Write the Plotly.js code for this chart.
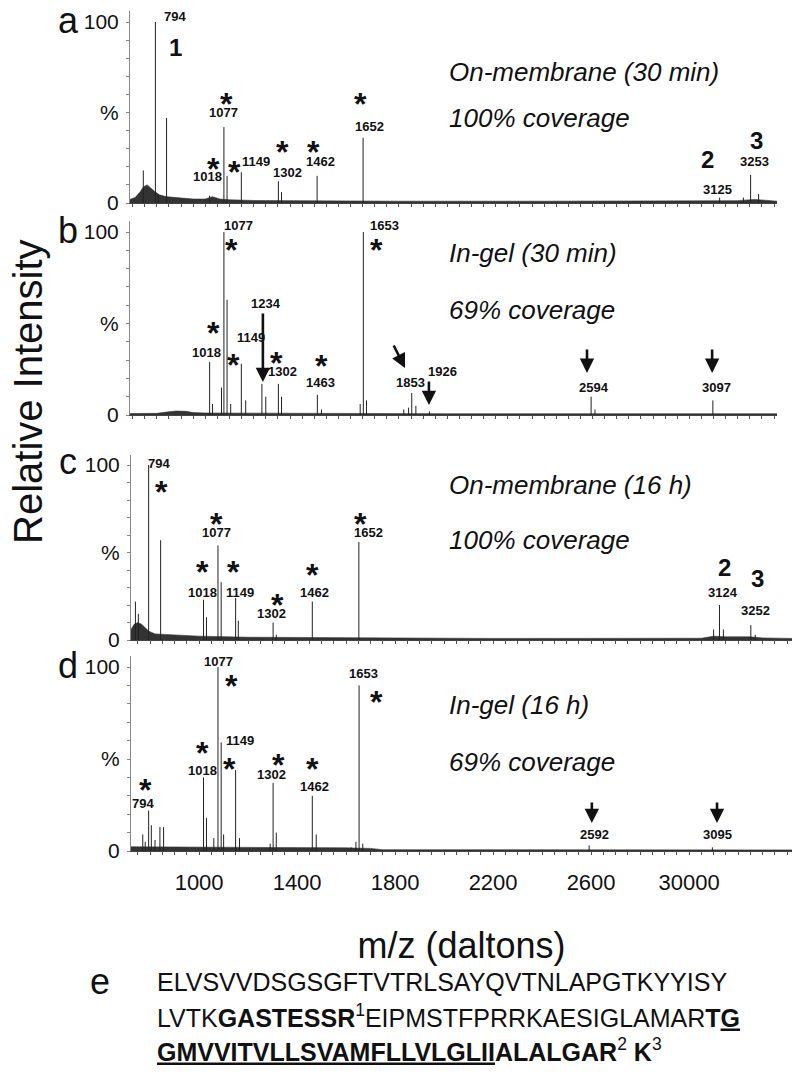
<!DOCTYPE html>
<html>
<head>
<meta charset="utf-8">
<script src="https://cdn.plot.ly/plotly-3.0.1.min.js"></script>
<style>
  body { margin: 0; background: #fff; }
  #chart { width: 800px; height: 1088px; }
</style>
</head>
<body>
<div id="chart"></div>
<script>
// ---- spectra: m/z and relative intensity (%) ----
// a: on-membrane, 30 min
var peaksA_mz  = [744, 794, 806, 840, 1018, 1077, 1090, 1149, 1302, 1315, 1462, 1652, 3125, 3223, 3253, 3286];
var peaksA_int = [18, 100, 5, 47, 4, 42, 15, 17, 12, 6, 15, 36, 3, 3, 15.5, 5];
var noiseA_mz  = [689, 710, 730, 745, 760, 775, 790, 810, 840, 880, 950, 1000, 1030, 1060, 1100, 1200, 1400, 1800, 2400, 3000, 3200, 3270, 3362];
var noiseA_int = [2, 3, 6, 9, 10, 8, 6.5, 4.5, 3.5, 3, 2.2, 2.2, 3.5, 2.2, 1.8, 1.4, 1.2, 1, 1, 1, 1.3, 2, 1];

// b: in-gel, 30 min
var peaksB_mz  = [1018, 1030, 1067, 1077, 1090, 1105, 1149, 1167, 1234, 1250, 1302, 1315, 1463, 1480, 1640, 1653, 1666, 1820, 1840, 1853, 1870, 1926, 2594, 2610, 3097];
var peaksB_int = [29, 6, 15, 100, 63, 6, 28, 8, 17, 10, 17, 10, 11, 3, 6, 100, 8, 3, 4, 12, 5, 2, 10, 3, 8];
var noiseB_mz  = [689, 800, 840, 880, 920, 950, 1000, 1500, 2000, 3362];
var noiseB_int = [0.8, 0.9, 1.6, 2.2, 2, 1.3, 1.1, 0.9, 0.7, 0.7];

// c: on-membrane, 16 h
var peaksC_mz  = [740, 752, 794, 843, 1018, 1030, 1077, 1090, 1149, 1160, 1302, 1315, 1462, 1652, 3100, 3124, 3140, 3252, 3270];
var peaksC_int = [22, 15, 100, 57, 23, 13, 54, 33, 24, 11, 10, 3, 22, 56, 6, 20, 6, 8.5, 3];
var noiseC_mz  = [722, 735, 750, 765, 780, 795, 820, 900, 1000, 1200, 1600, 2200, 3050, 3100, 3150, 3250, 3300, 3420];
var noiseC_int = [6, 9, 10, 9, 7, 5, 3.5, 2.8, 2.2, 1.6, 1.3, 0.9, 1, 2.2, 1.8, 1.8, 1.2, 0.9];

// d: in-gel, 16 h
var peaksD_mz  = [770, 780, 794, 805, 820, 840, 855, 1018, 1030, 1060, 1077, 1090, 1100, 1149, 1165, 1290, 1302, 1315, 1462, 1478, 1620, 1640, 1653, 1668, 2592, 3095];
var peaksD_int = [9, 5, 22, 14, 6, 13, 13, 40, 18, 7, 100, 59, 9, 44, 7, 4, 37, 10, 30, 9, 2, 5, 90, 4, 3, 2];
var noiseD_mz  = [722, 800, 1000, 1300, 1600, 1700, 1750, 2500, 3420];
var noiseD_int = [2.3, 2.3, 1.9, 1.9, 1.7, 1.4, 0.7, 0.6, 0.6];

// ---- axis ticks ----
var xTickVals = [1000, 1400, 1800, 2200, 2600, 3000];
var xTickText = ['1000', '1400', '1800', '2200', '2600', '30000'];
var yTickVals = [0, 10, 20, 30, 40, 50, 60, 70, 80, 90, 100];
var yTickText = ['0', '', '', '', '', '%', '', '', '', '', '100'];

// ---- peak labels [m/z, %, text] and asterisks [m/z, %] ----
var numA = [[875, 103, '794'], [1077, 50, '1077'], [1011, 14.4, '1018'], [1209, 23, '1149'], [1341, 16.6, '1302'],
            [1474, 23, '1462'], [1680, 42.5, '1652'], [3118, 7.2, '3125'], [3271, 22.7, '3253']];
var starA = [[1089, 58.6], [1032, 22.7], [1122, 21], [1321, 32], [1449, 32], [1643, 58.6]];
var bigA = [[875, 86, '1'], [3073, 23.8, '2'], [3279, 34.8, '3']];

var numB = [[1139, 103.8, '1077'], [1742, 103.8, '1653'], [1007, 34.4, '1018'], [1189, 42.6, '1149'], [1251, 61, '1234'],
            [1321, 24, '1302'], [1474, 17.5, '1463'], [1846, 17.5, '1853'], [1982, 24, '1926'], [2606, 15.3, '2594'], [3114, 15.3, '3097']];
var starB = [[1110, 94], [1709, 94], [1032, 48.6], [1118, 31], [1296, 32], [1482, 30.6]];
var arrowB = [[1238, 18, 0, -70], [1825, 25.7, -12, -24], [1924, 5.5, 0, -25], [2577, 23, 0, -25], [3094, 23, 0, -25]];

var numC = [[836, 100.6, '794'], [1073, 61.7, '1077'], [1012, 26.9, '1018'], [1167, 26.9, '1149'], [1297, 15.4, '1302'],
            [1469, 26.9, '1462'], [1693, 61.7, '1652'], [3138, 26.9, '3124'], [3269, 17.1, '3252']];
var starC = [[848, 88.6], [1069, 70.3], [1012, 42.9], [1142, 42.9], [1318, 24], [1461, 41], [1657, 70.3]];
var bigC = [[3146, 41.7, '2'], [3281, 34.9, '3']];

var numD = [[1081, 103, '1077'], [1669, 96.7, '1653'], [1012, 43.5, '1018'], [1167, 59.8, '1149'], [1297, 41.8, '1302'],
            [1473, 34.8, '1462'], [771, 26, '794'], [2612, 8.7, '2592'], [3114, 8.7, '3095']];
var starD = [[1134, 93.5], [1726, 84.8], [1012, 57], [1122, 48.4], [1322, 50.5], [1461, 48.4], [783, 37]];
var arrowD = [[2603, 15.2, 0, -22], [3114, 15.2, 0, -22]];

var captions = [
  ['On-membrane (30 min)', '100% coverage'],
  ['In-gel (30 min)', '69% coverage'],
  ['On-membrane (16 h)', '100% coverage'],
  ['In-gel (16 h)', '69% coverage']
];

var seqLines = [
  'ELVSVVDSGSGFTVTRLSAYQVTNLAPGTKYYISY',
  'LVTK<b>GASTESSR</b><sup>1</sup>EIPMSTFPRRKAESIGLAMAR<b>T<u>G</u></b>',
  '<b><u>GMVVITVLLSVAMFLLVLGLII</u>ALALGAR</b><sup>2</sup> <b>K</b><sup>3</sup>'
];

// ---- styling / layout ----
var sans = 'Liberation Sans, Arial, sans-serif';
var H = 1088, W = 800, yTop = 106;

function sticks(mz, inten) {
  var x = [], y = [];
  for (var i = 0; i < mz.length; i++) {
    x.push(mz[i], mz[i], null);
    y.push(0, inten[i], null);
  }
  return {x: x, y: y};
}

var traces = [];
function addSpectrum(peaksMz, peaksInt, noiseMz, noiseInt, xa, ya) {
  traces.push({
    x: noiseMz, y: noiseInt, xaxis: xa, yaxis: ya, type: 'scatter', mode: 'lines',
    fill: 'tozeroy', fillcolor: '#333', line: {color: '#333', width: 0.6}, hoverinfo: 'skip'
  });
  var s = sticks(peaksMz, peaksInt);
  traces.push({
    x: s.x, y: s.y, xaxis: xa, yaxis: ya, type: 'scatter', mode: 'lines',
    line: {color: '#222', width: 1}, connectgaps: false, hoverinfo: 'skip'
  });
}
addSpectrum(peaksA_mz, peaksA_int, noiseA_mz, noiseA_int, 'x4', 'y4');
addSpectrum(peaksB_mz, peaksB_int, noiseB_mz, noiseB_int, 'x3', 'y3');
addSpectrum(peaksC_mz, peaksC_int, noiseC_mz, noiseC_int, 'x2', 'y2');
addSpectrum(peaksD_mz, peaksD_int, noiseD_mz, noiseD_int, 'x', 'y');

function yAxis(basePx, k, anchor) {
  return {
    domain: [1 - basePx / H, 1 - (basePx - yTop * k) / H],
    range: [0, yTop], anchor: anchor,
    showline: true, linecolor: '#888', linewidth: 1,
    ticks: 'outside', ticklen: 3, tickcolor: '#888',
    tickmode: 'array', tickvals: yTickVals, ticktext: yTickText,
    tickfont: {family: sans, size: 21, color: '#111'}, ticklabelstandoff: 3,
    showgrid: false, zeroline: false, fixedrange: true
  };
}
function xAxis(left, right, range, anchor, labels) {
  var ax = {
    domain: [left / W, right / W], range: range, anchor: anchor,
    showline: true, linecolor: '#444', linewidth: 1,
    ticks: 'outside', ticklen: 3, tickcolor: '#555',
    showgrid: false, zeroline: false, fixedrange: true
  };
  if (labels) {
    ax.tickmode = 'array';
    ax.tickvals = xTickVals;
    ax.ticktext = xTickText;
    ax.tickfont = {family: sans, size: 22, color: '#111'};
    ax.ticklabelstandoff = 9;
    ax.minor = {tickmode: 'linear', tick0: 0, dtick: 50, ticks: 'outside', ticklen: 3, tickcolor: '#555'};
    ax.title = {text: 'm/z (daltons)', font: {family: sans, size: 36, color: '#111'}, standoff: 38};
  } else {
    ax.tickmode = 'linear';
    ax.tick0 = 0;
    ax.dtick = 50;
    ax.showticklabels = false;
  }
  return ax;
}

var rangeCD = [722, 3420], rangeAB = [689, 3362];

var annotations = [];
function addNums(list, xr, yr) {
  list.forEach(function (p) {
    annotations.push({x: p[0], y: p[1], xref: xr, yref: yr, text: p[2], showarrow: false,
      font: {family: sans, size: 13, color: '#111', weight: 'bold'}});
  });
}
function addStars(list, xr, yr) {
  list.forEach(function (p) {
    annotations.push({x: p[0], y: p[1], xref: xr, yref: yr, text: '<b>*</b>', showarrow: false, yshift: -7,
      font: {family: sans, size: 32, color: '#111'}});
  });
}
function addBig(list, xr, yr) {
  list.forEach(function (p) {
    annotations.push({x: p[0], y: p[1], xref: xr, yref: yr, text: '<b>' + p[2] + '</b>', showarrow: false,
      font: {family: sans, size: 24, color: '#111'}});
  });
}
function addArrows(list, xr, yr) {
  list.forEach(function (p) {
    annotations.push({x: p[0], y: p[1], xref: xr, yref: yr, ax: p[2], ay: p[3], text: '',
      showarrow: true, arrowhead: 2, arrowsize: 1.1, arrowwidth: 2.6, arrowcolor: '#111', standoff: 0});
  });
}
function addCaption(lines, xPos, y1, y2, xr, yr) {
  annotations.push({x: xPos, y: y1, xref: xr, yref: yr, text: '<i>' + lines[0] + '</i>', showarrow: false,
    xanchor: 'left', font: {family: sans, size: 26, color: '#111'}});
  annotations.push({x: xPos, y: y2, xref: xr, yref: yr, text: '<i>' + lines[1] + '</i>', showarrow: false,
    xanchor: 'left', font: {family: sans, size: 26, color: '#111'}});
}

addNums(numA, 'x4', 'y4'); addStars(starA, 'x4', 'y4'); addBig(bigA, 'x4', 'y4');
addCaption(captions[0], 1998, 72.4, 47, 'x4', 'y4');
addNums(numB, 'x3', 'y3'); addStars(starB, 'x3', 'y3'); addArrows(arrowB, 'x3', 'y3');
addCaption(captions[1], 1998, 88.5, 57.4, 'x3', 'y3');
addNums(numC, 'x2', 'y2'); addStars(starC, 'x2', 'y2'); addBig(bigC, 'x2', 'y2');
addCaption(captions[2], 2012, 88.6, 57, 'x2', 'y2');
addNums(numD, 'x', 'y'); addStars(starD, 'x', 'y'); addArrows(arrowD, 'x', 'y');
addCaption(captions[3], 2012, 79.3, 48.4, 'x', 'y');

// panel letters (paper coords, anchors set explicitly)
[['a', 21], ['b', 231], ['c', 461], ['d', 665], ['e', 981]].forEach(function (l) {
  annotations.push({x: (l[0] === 'e' ? 100 : 68) / W, y: 1 - l[1] / H, xref: 'paper', yref: 'paper',
    xanchor: 'center', yanchor: 'middle',
    text: l[0], showarrow: false, font: {family: sans, size: 36, color: '#111'}});
});

// y title
annotations.push({x: 28 / W, y: 1 - 392 / H, xref: 'paper', yref: 'paper', xanchor: 'center', yanchor: 'middle',
  text: 'Relative Intensity', textangle: -90, showarrow: false, font: {family: sans, size: 40, color: '#111'}});

// sequence (panel e)
[982, 1016, 1050].forEach(function (py, i) {
  annotations.push({x: 155 / W, y: 1 - py / H, xref: 'paper', yref: 'paper', xanchor: 'left', yanchor: 'middle',
    text: seqLines[i], showarrow: false, font: {family: sans, size: 25, color: '#111'}});
});

var layout = {
  width: W, height: H,
  margin: {l: 0, r: 0, t: 0, b: 0},
  paper_bgcolor: '#fff', plot_bgcolor: '#fff',
  showlegend: false,
  xaxis: xAxis(131, 792, rangeCD, 'y', true),
  xaxis2: xAxis(131, 792, rangeCD, 'y2', false),
  xaxis3: xAxis(130, 777, rangeAB, 'y3', false),
  xaxis4: xAxis(130, 777, rangeAB, 'y4', false),
  yaxis: yAxis(851, 1.84, 'x'),
  yaxis2: yAxis(640, 1.75, 'x2'),
  yaxis3: yAxis(415, 1.83, 'x3'),
  yaxis4: yAxis(203, 1.81, 'x4'),
  annotations: annotations
};

Plotly.newPlot('chart', traces, layout, {displayModeBar: false, staticPlot: true});
</script>
</body>
</html>
